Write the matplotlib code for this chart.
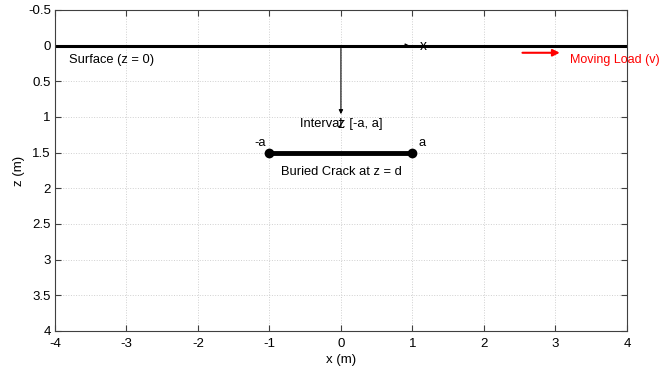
import numpy as np
import matplotlib
matplotlib.use('Agg')
import matplotlib.pyplot as plt

plt.rcParams['font.family'] = ['Liberation Sans', 'DejaVu Sans']
plt.rcParams['axes.unicode_minus'] = False

# geometry values (m)
surface_x = [-4, 4]
surface_z = [0, 0]
crack_x = [-1, 1]
crack_z = [1.5, 1.5]
load_x = [2.5, 3.1]
load_z = [0.1, 0.1]
x_ticks = [-4, -3, -2, -1, 0, 1, 2, 3, 4]
z_ticks = [-0.5, 0, 0.5, 1, 1.5, 2, 2.5, 3, 3.5, 4]
z_ticklabels = ['-0.5', '0', '0.5', '1', '1.5', '2', '2.5', '3', '3.5', '4']

fig = plt.figure(figsize=(6.62, 3.69), dpi=100)
ax = fig.add_axes([0.083, 0.103, 0.864, 0.870])

# Surface line
ax.plot(surface_x, surface_z, color='black', linewidth=2.2)
ax.text(-3.8, 0.2, 'Surface (z = 0)', fontsize=9.3, va='center', ha='left')

# coordinate axes arrows
ax.annotate('', xy=(1, 0), xytext=(0, 0),
            arrowprops=dict(arrowstyle='-|>', color='black', lw=0.8, mutation_scale=6))
ax.annotate('', xy=(0, 1.0), xytext=(0, 0),
            arrowprops=dict(arrowstyle='-|>', color='black', lw=0.8, mutation_scale=6))
ax.text(1.15, 0.0, 'x', fontsize=10, ha='center', va='center')
ax.text(0.0, 1.1, 'z', fontsize=10, ha='center', va='center')

# Buried crack
ax.plot(crack_x, crack_z, color='black', linewidth=3.5, marker='o', markersize=6)
ax.text(-1.05, 1.45, '-a', fontsize=9.3, ha='right', va='bottom')
ax.text(1.08, 1.45, 'a', fontsize=9.3, ha='left', va='bottom')
ax.text(0.0, 1.1, 'Interval: [-a, a]', fontsize=9.3, ha='center', va='center')
ax.text(0.0, 1.77, 'Buried Crack at z = d', fontsize=9.3, ha='center', va='center')

# Moving load
ax.annotate('', xy=(load_x[1], load_z[1]), xytext=(load_x[0], load_z[0]),
            arrowprops=dict(arrowstyle='-|>', color='red', lw=1.5, mutation_scale=10))
ax.text(3.2, 0.2, 'Moving Load (v)', fontsize=9, color='red', ha='left', va='center',
        clip_on=False)

ax.set_xlim(-4, 4)
ax.set_ylim(4, -0.5)
ax.set_xticks(x_ticks)
ax.set_yticks(z_ticks)
ax.set_yticklabels(z_ticklabels)
ax.set_xlabel('x (m)', fontsize=9.5, labelpad=3)
ax.set_ylabel('z (m)', fontsize=9.5, labelpad=2)
ax.tick_params(direction='in', length=4, labelsize=9.5, color='#404040',
               top=True, right=True)
ax.tick_params(axis='x', pad=5)
ax.tick_params(axis='y', pad=3)
for s in ax.spines.values():
    s.set_color('#404040')
    s.set_linewidth(0.8)
ax.grid(True, linestyle=':', color='#d0d0d0', linewidth=0.7)

fig.savefig('out.png', dpi=100)
